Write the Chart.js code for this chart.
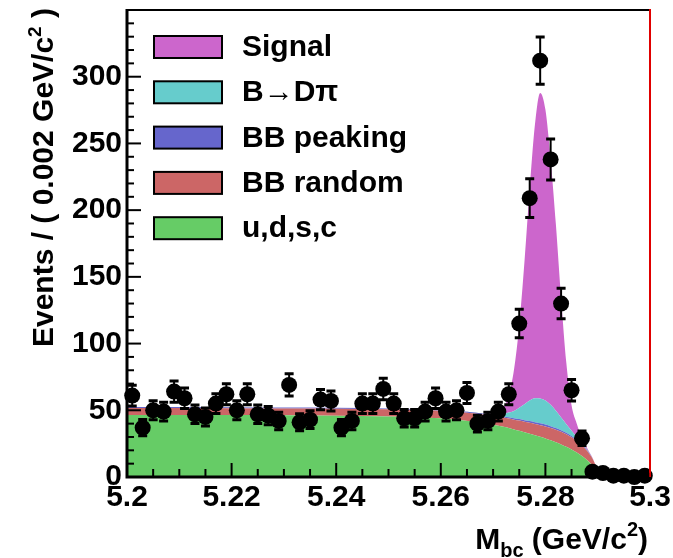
<!DOCTYPE html>
<html>
<head>
<meta charset="utf-8">
<title>Mbc fit</title>
<script src="https://cdn.jsdelivr.net/npm/chart.js@4.4.1/dist/chart.umd.min.js"></script>
<style>
  html, body { margin: 0; padding: 0; background: #fff; }
  #mbcChart { display: block; }
</style>
</head>
<body>
<canvas id="mbcChart" width="673" height="558"></canvas>
<script>
// --- Mbc fit: stacked fit components with binned data on top ---

const FONT = '"Liberation Sans", Arial, Helvetica, sans-serif';

// Axis ticks
const xTickValues = [5.2, 5.22, 5.24, 5.26, 5.28, 5.3];
const xTickLabels = ['5.2', '5.22', '5.24', '5.26', '5.28', '5.3'];
const yTickValues = [0, 50, 100, 150, 200, 250, 300];
const yTickLabels = ['0', '50', '100', '150', '200', '250', '300'];

// Data: bin centers (0.002 GeV/c^2 bins), counts and errors
const binCenters = [
  5.201, 5.203, 5.205, 5.207, 5.209, 5.211, 5.213, 5.215, 5.217, 5.219,
  5.221, 5.223, 5.225, 5.227, 5.229, 5.231, 5.233, 5.235, 5.237, 5.239,
  5.241, 5.243, 5.245, 5.247, 5.249, 5.251, 5.253, 5.255, 5.257, 5.259,
  5.261, 5.263, 5.265, 5.267, 5.269, 5.271, 5.273, 5.275, 5.277, 5.279,
  5.281, 5.283, 5.285, 5.287, 5.289, 5.291, 5.293, 5.295, 5.297, 5.299
];
const counts = [
  61, 37, 50, 49, 64, 59, 47, 45, 55, 62,
  50, 62, 47, 46, 42, 69, 41, 43, 58, 57,
  37, 42, 55, 55, 66, 55, 44, 44, 49, 59,
  49, 50, 63, 40, 42, 49, 62, 115, 209, 312,
  238, 130, 65, 29, 4, 3, 1, 1, 0, 1
];
const countErrors = [
  7.8, 6.1, 7.1, 7.0, 8.0, 7.7, 6.9, 6.7, 7.4, 7.9,
  7.1, 7.9, 6.9, 6.8, 6.5, 8.3, 6.4, 6.6, 7.6, 7.5,
  6.1, 6.5, 7.4, 7.4, 8.1, 7.4, 6.6, 6.6, 7.0, 7.7,
  7.0, 7.1, 7.9, 6.3, 6.5, 7.0, 7.9, 10.7, 14.5, 17.7,
  15.4, 11.4, 8.1, 5.4, 2.0, 1.7, 1.0, 1.0, 1.1, 1.0
];

// Fit components, sampled on a common Mbc grid
const fitX = [
  5.200, 5.210, 5.220, 5.230, 5.240, 5.250, 5.255, 5.260, 5.264, 5.268,
  5.270, 5.272, 5.273, 5.274, 5.275, 5.276, 5.277, 5.278, 5.279, 5.280,
  5.281, 5.282, 5.283, 5.284, 5.285, 5.286, 5.287, 5.288, 5.289, 5.290,
  5.2905, 5.292, 5.300
];
const udsc = [
  46.5, 46.5, 46.4, 46.2, 45.9, 45.3, 44.8, 44.0, 42.6, 40.5,
  39.2, 37.6, 36.7, 35.6, 34.6, 33.5, 32.4, 31.3, 30.1, 28.9,
  27.5, 26.0, 24.4, 22.6, 20.6, 18.3, 15.7, 12.6, 8.6, 3.0,
  0, 0, 0
];
const bbRandom = [
  5.2, 5.2, 5.2, 5.2, 5.3, 5.4, 5.5, 5.7, 6.0, 6.4,
  6.6, 7.0, 7.2, 7.4, 7.7, 7.9, 8.2, 8.4, 8.7, 9.0,
  9.2, 9.4, 9.5, 9.5, 9.2, 8.7, 8.0, 6.9, 5.2, 2.0,
  0, 0, 0
];
const bbPeaking = [
  0.7, 0.7, 0.7, 0.7, 0.7, 0.7, 0.7, 0.7, 0.7, 0.7,
  0.8, 0.8, 0.9, 1.0, 1.1, 1.2, 1.3, 1.4, 1.5, 1.5,
  1.4, 1.3, 1.2, 1.0, 0.9, 0.8, 0.6, 0.5, 0.3, 0.1,
  0, 0, 0
];
const bDpi = [
  0, 0, 0, 0, 0, 0, 0, 0, 0, 0,
  0.5, 2.0, 3.5, 5.5, 8.5, 12.0, 15.5, 18.0, 18.5, 18.0,
  16.0, 13.0, 9.5, 6.5, 4.0, 2.2, 1.0, 0.4, 0, 0,
  0, 0, 0
];
const signal = [
  0, 0, 0, 0, 0, 0, 0, 0, 0, 0,
  0.4, 5, 13, 31, 62, 107, 159, 205, 229, 218,
  184, 140, 90, 46, 19, 10, 4, 1.2, 0.3, 0,
  0, 0, 0
];

const legendLabels = ['Signal', 'B\u2192D\u03c0', 'BB peaking', 'BB random', 'u,d,s,c'];

const colors = {
  signal: '#cc66cc',
  bDpi: '#66cccc',
  bbPeaking: '#6666cc',
  bbRandom: '#cc6666',
  udsc: '#66cc66'
};

const toPoints = (ys) => fitX.map((x, i) => ({ x: x, y: ys[i] }));

function component(label, ys, color, fill) {
    return {
        label: label,
        data: toPoints(ys),
        backgroundColor: color,
        borderColor: color,
        borderWidth: 0,
        pointRadius: 0,
        fill: fill,
        stack: 'fit',
        cubicInterpolationMode: 'monotone'
    };
}

// Error bars with small caps, drawn through the scales
const errorBars = {
    id: 'errorBars',
    afterDatasetsDraw(chart) {
        const { ctx, scales: { x, y } } = chart;
        ctx.save();
        ctx.strokeStyle = '#000';
        binCenters.forEach((xv, i) => {
            const px = x.getPixelForValue(xv);
            const top = y.getPixelForValue(counts[i] + countErrors[i]);
            const bot = y.getPixelForValue(Math.max(counts[i] - countErrors[i], 0));
            ctx.lineWidth = 2;
            ctx.beginPath();
            ctx.moveTo(px, top);
            ctx.lineTo(px, bot);
            ctx.stroke();
            ctx.lineWidth = 3;
            ctx.beginPath();
            ctx.moveTo(px - 4.5, top); ctx.lineTo(px + 4.5, top);
            ctx.moveTo(px - 4.5, bot); ctx.lineTo(px + 4.5, bot);
            ctx.stroke();
        });
        ctx.restore();
    }
};

// Frame and inward tick marks
const frameTicks = {
    id: 'frameTicks',
    afterDatasetsDraw(chart) {
        const { ctx, chartArea: a, scales: { x, y } } = chart;
        ctx.save();
        ctx.strokeStyle = '#000';
        ctx.lineWidth = 2;
        // x: minor every 0.005, major every 0.02
        for (let k = 0; k <= 20; k++) {
            const px = x.getPixelForValue(5.2 + k * 0.005);
            const len = k % 4 === 0 ? 14 : 8;
            ctx.beginPath();
            ctx.moveTo(px, a.bottom);
            ctx.lineTo(px, a.bottom - len);
            ctx.stroke();
        }
        // y: minor every 10, major every 50
        for (let k = 0; k <= 35; k++) {
            const py = y.getPixelForValue(k * 10);
            const len = k % 5 === 0 ? 14 : 7;
            ctx.beginPath();
            ctx.moveTo(a.left, py);
            ctx.lineTo(a.left + len, py);
            ctx.stroke();
        }
        // frame
        ctx.lineWidth = 2;
        ctx.beginPath();
        ctx.moveTo(a.left, a.top);
        ctx.lineTo(a.right, a.top);
        ctx.stroke();
        ctx.lineWidth = 3;
        ctx.beginPath();
        ctx.moveTo(a.left, a.top - 1);
        ctx.lineTo(a.left, a.bottom);
        ctx.lineTo(a.right, a.bottom);
        ctx.stroke();
        ctx.strokeStyle = '#e00000';
        ctx.lineWidth = 2;
        ctx.beginPath();
        ctx.moveTo(a.right, a.top - 1);
        ctx.lineTo(a.right, a.bottom);
        ctx.stroke();
        ctx.restore();
    }
};

// Draw a run of text pieces (normal / sub / superscript) starting at x0
function drawPieces(ctx, pieces, size, x0, baseY) {
    let xx = x0;
    pieces.forEach(p => {
        ctx.font = 'bold ' + Math.round(size * p.s) + 'px ' + FONT;
        ctx.fillText(p.t, xx, baseY + p.dy * size);
        xx += ctx.measureText(p.t).width;
    });
}
function piecesWidth(ctx, pieces, size) {
    let w = 0;
    pieces.forEach(p => {
        ctx.font = 'bold ' + Math.round(size * p.s) + 'px ' + FONT;
        w += ctx.measureText(p.t).width;
    });
    return w;
}

// Axis titles, right-aligned to the end of each axis
const axisTitles = {
    id: 'axisTitles',
    afterDraw(chart) {
        const { ctx, chartArea: a } = chart;
        ctx.save();
        ctx.fillStyle = '#000';
        ctx.textBaseline = 'alphabetic';
        ctx.textAlign = 'left';

        const yTitle = [
            { t: 'Events / ( 0.002 GeV/c', s: 1, dy: 0 },
            { t: '2', s: 0.65, dy: -0.42 },
            { t: ' )', s: 1, dy: 0 }
        ];
        ctx.save();
        ctx.translate(53, a.top - 2);
        ctx.rotate(-Math.PI / 2);
        drawPieces(ctx, yTitle, 29.5, -piecesWidth(ctx, yTitle, 29.5), 0);
        ctx.restore();

        const xTitle = [
            { t: 'M', s: 1, dy: 0 },
            { t: 'bc', s: 0.65, dy: 0.25 },
            { t: ' (GeV/c', s: 1, dy: 0 },
            { t: '2', s: 0.65, dy: -0.42 },
            { t: ')', s: 1, dy: 0 }
        ];
        drawPieces(ctx, xTitle, 30, a.right - 2 - piecesWidth(ctx, xTitle, 30), 549);
        ctx.restore();
    }
};

// Legend box in the upper left of the frame
const fitLegend = {
    id: 'fitLegend',
    afterDraw(chart) {
        const { ctx } = chart;
        const fills = [colors.signal, colors.bDpi, colors.bbPeaking, colors.bbRandom, colors.udsc];
        ctx.save();
        ctx.font = 'bold 30px ' + FONT;
        ctx.textBaseline = 'alphabetic';
        legendLabels.forEach((lbl, i) => {
            const base = 56 + i * 45.3;
            ctx.fillStyle = fills[i];
            ctx.fillRect(154, base - 20, 68, 22);
            ctx.strokeStyle = '#000';
            ctx.lineWidth = 2;
            ctx.strokeRect(154, base - 20, 68, 22);
            ctx.fillStyle = '#000';
            ctx.fillText(lbl, 242, base);
        });
        ctx.restore();
    }
};

const tickFont = { family: FONT, size: 30, weight: 'bold' };

new Chart(document.getElementById('mbcChart'), {
    type: 'line',
    data: {
        datasets: [
            component('u,d,s,c', udsc, colors.udsc, 'origin'),
            component('BB random', bbRandom, colors.bbRandom, '-1'),
            component('BB peaking', bbPeaking, colors.bbPeaking, '-1'),
            component('B\u2192D\u03c0', bDpi, colors.bDpi, '-1'),
            component('Signal', signal, colors.signal, '-1'),
            {
                label: 'Data',
                data: binCenters.map((x, i) => ({ x: x, y: counts[i] })),
                showLine: false,
                pointRadius: 8,
                pointBackgroundColor: '#000',
                pointBorderWidth: 0,
                fill: false,
                stack: 'data',
                order: -1,
                clip: false
            }
        ]
    },
    options: {
        responsive: false,
        animation: false,
        devicePixelRatio: 1,
        layout: { padding: { top: 10, right: 23, bottom: 0, left: 0 } },
        plugins: {
            legend: { display: false },
            tooltip: { enabled: false }
        },
        scales: {
            x: {
                type: 'linear',
                min: 5.2,
                max: 5.3,
                grid: { display: false, drawTicks: false },
                border: { display: false },
                afterBuildTicks: (s) => { s.ticks = xTickValues.map(v => ({ value: v })); },
                afterFit: (s) => { s.height = 81; s.paddingLeft = 0; s.paddingRight = 0; },
                ticks: {
                    autoSkip: false,
                    maxRotation: 0,
                    padding: 3,
                    color: '#000',
                    font: tickFont,
                    callback: (v, i) => xTickLabels[i]
                }
            },
            y: {
                stacked: true,
                min: 0,
                max: 350,
                grid: { display: false, drawTicks: false },
                border: { display: false },
                afterBuildTicks: (s) => { s.ticks = yTickValues.map(v => ({ value: v })); },
                afterFit: (s) => { s.width = 127; s.paddingTop = 0; s.paddingBottom = 0; },
                ticks: {
                    padding: 5,
                    color: '#000',
                    font: tickFont,
                    callback: (v, i) => yTickLabels[i]
                }
            }
        }
    },
    plugins: [frameTicks, errorBars, axisTitles, fitLegend]
});
</script>
</body>
</html>
